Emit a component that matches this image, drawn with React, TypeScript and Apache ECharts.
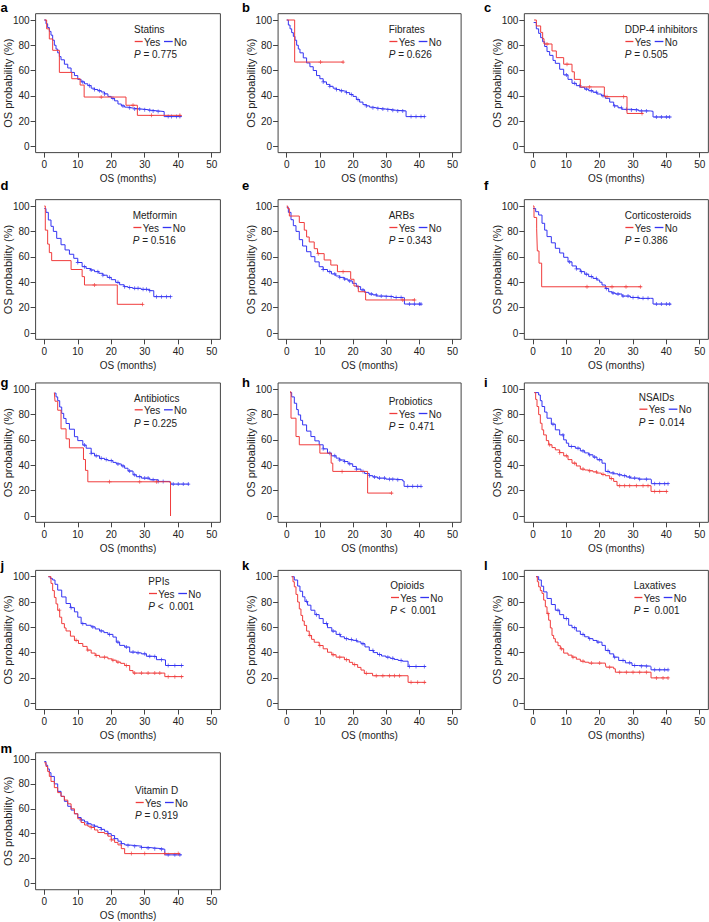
import React, { useEffect, useRef } from "react";
import * as echarts from "echarts";

const FONT = '"Liberation Sans", Arial, Helvetica, sans-serif';
const RED = "#f03c3c";
const BLUE = "#3434f2";
const INK = "#222";

const panelLetters = ["a", "b", "c", "d", "e", "f", "g", "h", "i", "j", "k", "l", "m"];
const drugNames = ["Statins", "Fibrates", "DDP-4 inhibitors", "Metformin", "ARBs", "Corticosteroids", "Antibiotics", "Probiotics", "NSAIDs", "PPIs", "Opioids", "Laxatives", "Vitamin D"];
const pValues = ["= 0.775", "= 0.626", "= 0.505", "= 0.516", "= 0.343", "= 0.386", "= 0.225", "=  0.471", "=  0.014", "<  0.001", "<  0.001", "=  0.001", "= 0.919"];
const xTicks = [0, 10, 20, 30, 40, 50];
const yTicks = [0, 20, 40, 60, 80, 100];

// Kaplan-Meier curves: [months, survival %]
const statinsYes = [[0,100],[0.7,93],[1.5,85],[2.5,76],[4.5,58.5],[8.2,53.5],[10.7,48.5],[11.9,39],[24.4,32.5],[27.8,24.5],[41,24.5]];
const statinsNo = [[0,100],[0.5,97],[1,94],[1.5,91],[2,88],[2.5,84],[3,80],[3.5,77],[4,74],[4.5,71],[5,68.5],[6,65],[7,62],[8,58.5],[9,56],[10,53],[11,51],[12,49.5],[13,48],[14,46],[15,45],[16,44],[17,43],[18,41.5],[19,39.5],[20,38],[21,36],[22,33.5],[23,32],[24,31],[25,30.5],[26,30],[27,29.5],[29,29],[31,28.5],[32,28],[34,27.5],[35.8,23.5],[41,23.5]];
const fibratesYes = [[0,100],[2.4,66.7],[17.2,66.7]];
const fibratesNo = [[0,100],[0.5,96],[1,93],[1.5,90],[2,87],[2.5,84],[3,80],[3.5,77],[4,74],[5,70],[6,66],[7,63],[8,60],[9,56],[10,53.5],[11,51],[12,49],[13,47.5],[14,46],[15,45],[16,44],[17,43.5],[18,42.5],[19,41],[20,39.5],[21,37],[22,35],[23,33],[24,32],[25,31],[26,30.5],[27,30],[28,29.5],[30,29],[32,28.5],[33,28],[36,23.5],[41.8,23.5]];
const dpp4Yes = [[0.3,100],[1,95.3],[2.3,90.2],[2.9,85.2],[3.3,81],[5.7,75.5],[7,70.2],[9.2,65],[11.7,59],[12.4,53],[14.2,47],[21.4,39.3],[28.2,26],[33,26]];
const dpp4No = [[0.2,98],[1,93],[1.7,89.4],[2.3,86],[2.9,82.8],[3.5,79],[4.2,75],[5,72],[6,68],[6.7,65.7],[8,61],[9.2,56.5],[10.5,53],[11.7,49.9],[13,48],[14.2,46.7],[15.5,45.3],[16.7,44],[18,42.8],[19.2,41.4],[20.5,40],[21.7,38],[23,35],[24.2,32],[25.5,30.5],[26.7,29.3],[29.2,28.8],[31.7,28],[35.2,27.7],[36,23.2],[41.2,23.2]];
const metforminYes = [[0,100],[0.3,81],[1,70],[1.5,63.3],[2.2,57],[8,50],[11.3,44.4],[12,37.8],[21.8,22.6],[29.6,22.6]];
const metforminNo = [[0,98],[0.5,95],[1.2,89],[2,84],[2.7,80],[3.7,74.5],[5,69.5],[6.2,65.4],[7.5,62],[8.8,58.8],[10,55.5],[11.3,52.2],[12.5,50.8],[13.8,49.6],[15,48.3],[16.3,47],[17.5,45.5],[18.8,43.8],[20,42],[21.3,39.9],[22.5,38],[23.8,36.5],[25,35.8],[26.4,35.2],[28.9,34.4],[31.4,33.3],[32.7,28.6],[37.9,28.6]];
const arbsYes = [[0,100],[0.3,98],[0.8,92.1],[3.8,87],[5.3,81],[6,75.6],[6.8,71.7],[8.3,66.4],[9.3,62.5],[11.3,57.5],[13.3,53.5],[15.3,48.3],[19.3,42.3],[20.3,37],[21.6,32.5],[23.8,26],[38.7,26]];
const arbsNo = [[0,99],[0.5,95],[1.3,89.2],[2,84.5],[2.8,80],[3.8,73.5],[4.8,68.5],[6,64],[7.3,60.1],[8.5,56],[9.8,52.2],[11,50],[12.3,48.3],[13.5,46.5],[14.8,44.9],[16,43.8],[17.3,42.5],[18.5,41],[19.8,39.1],[21,36.5],[22.3,33.9],[23.5,32],[24.8,30.7],[26,30],[27.2,29.1],[29.7,28.6],[32.2,28],[35.2,27.8],[35.5,22.8],[40.7,22.8]];
const corticoYes = [[0,100],[0.3,91],[1.1,82],[1.3,64.6],[1.8,55],[2.6,36.4],[32.5,36.4]];
const corticoNo = [[0,98],[0.8,95.5],[1.7,92.9],[2.7,86.4],[3.5,81],[4.2,75.9],[5.5,71],[6.7,66.7],[8,63],[9.2,59.6],[10.5,56],[11.7,52.8],[13,50.5],[14.2,48.3],[15.5,46.3],[16.7,44.4],[18,43],[19.2,41.7],[20,40],[20.7,37.8],[21.7,35],[22.7,32.5],[23.7,31.5],[24.7,30.7],[26.7,29.1],[29.2,28],[31.7,27.3],[35.2,27.3],[36,22.8],[41.4,22.8]];
const antibioticsYes = [[3,97.4],[3.2,90.6],[4,83.5],[5,68.8],[6.5,60.9],[7.5,53.8],[11.7,44.6],[12.3,36],[13,27],[37.7,0]];
const antibioticsNo = [[3,97],[3.5,94],[4,91],[4.6,86],[5.2,81],[5.8,77],[6.5,73],[7.5,68.5],[9,62.6],[10,59.5],[11.5,56],[12.5,53.5],[14,49.5],[15,47.5],[16.5,45.5],[18,44.5],[19,43.7],[20.5,42.3],[21.5,41.1],[23,39.5],[24,37.7],[25,35.5],[26.5,32.5],[27.5,31],[29,29.9],[31.5,28.6],[34,27.3],[37.5,26.5],[37.8,25.2],[43.3,25.2]];
const probioticsYes = [[1,98],[1.3,77.2],[2.8,62.7],[3.8,56.2],[10,49.6],[13.4,41.7],[13.9,35.2],[24.4,18.1],[31.9,18.1]];
const probioticsNo = [[1,97.4],[1.5,94],[2.3,89],[3,84],[3.5,79.8],[4.2,75.5],[4.8,71.9],[6,67],[7.3,62.7],[8.5,59.3],[9.8,56.2],[11,53],[12.3,49.6],[13.5,47.5],[14.9,45.7],[16,44.2],[17.4,43],[18.5,41.2],[19.9,39.1],[21,37],[22.4,35.2],[23.5,33.5],[24.9,31.8],[26,30.8],[27.4,29.9],[29.9,29.1],[32.4,28.6],[35,27.6],[35.4,23.4],[40.7,23.4]];
const nsaidsYes = [[0.4,97.4],[0.8,92],[1.2,86.4],[1.7,80],[2.2,73.2],[2.7,68],[3.2,64],[4,59.5],[4.7,56.2],[5.7,54],[6.7,52.2],[8,50],[9.2,47.5],[10.5,44.5],[11.7,41.7],[13,39.5],[14.2,37],[15.5,36.3],[16.7,35.7],[18,34.8],[19.2,33.9],[20.5,32.9],[21.7,31.8],[23,29.5],[24.2,27.3],[25.2,23.9],[35.4,19.4],[40.4,19.4]];
const nsaidsNo = [[0.4,97.4],[1.7,95.5],[2.2,91],[2.7,86.4],[3.5,82],[4.2,77.2],[5.5,72.5],[6.7,68],[8,64],[9.2,60.1],[10,57.5],[10.7,54.9],[12.7,53.5],[14.2,51.4],[15.5,49.8],[16.7,48.3],[18,46.5],[19.2,44.4],[20.7,41.7],[21.7,35.2],[23,34],[24.2,33.3],[25.5,32.5],[26.7,31.8],[28,30.8],[29.2,29.9],[31.7,29.1],[35.4,28.6],[35.5,25.5],[40.7,25.5]];
const ppisYes = [[1.2,100],[2,94.7],[2.5,89],[3,83.6],[3.5,78.5],[4,73.5],[4.6,68],[5.2,62.9],[6,59.5],[6.5,57.1],[7.8,53],[9,49.7],[10.2,47.2],[11.5,44.9],[12.8,42],[14,39.6],[15.2,37.8],[16.5,36.4],[19,35.1],[20.2,34],[21.5,32.5],[22.8,31.5],[24,29.8],[25.5,25.8],[26.5,23.8],[36,21],[41.5,21]];
const ppisNo = [[1.2,100],[1.8,98.5],[2.5,97.4],[3.2,94],[4,89.4],[5.2,84],[6.5,78.8],[7.8,75.5],[9,72.2],[10,68],[11,62.9],[12.5,61.6],[14,60.3],[15.2,58.7],[16.5,57.1],[17.8,55.8],[19,54.4],[20.5,52.3],[21.5,48.3],[22.5,45.7],[24,44.4],[25.5,40.4],[27.5,39.8],[29,39],[30.5,37.1],[32.5,36.9],[33.5,34.4],[35.5,34.2],[36.2,29.8],[41.5,29.8]];
const opioidsYes = [[1.5,100],[1.9,96],[2.3,92],[2.8,86],[3.3,80],[3.8,74.5],[4.3,69.4],[4.8,65],[5.3,61.5],[6,57],[6.8,53.5],[7.5,50.5],[8.3,48.2],[9.8,45.6],[11,43],[12.3,40.3],[13.6,38.3],[14.9,36.4],[17.4,34.4],[18.9,32.3],[19.9,30.5],[21.4,28.3],[22.4,26.2],[23.4,23.6],[25.9,21.7],[36.6,16.5],[42,16.5]];
const opioidsNo = [[1.5,100],[2.3,97.4],[3.3,92.6],[4,88.5],[4.8,84.1],[5.5,80.5],[6.3,77.5],[7.3,73.5],[8.5,70],[9.8,66.9],[11,63],[12.3,59.7],[13.6,57],[14.9,54.4],[16.2,52.5],[17.4,51],[18.6,50.3],[19.9,49.7],[21.2,48.5],[22.4,47],[23.6,44.5],[24.9,41.7],[26.2,40],[27.4,38.5],[28.6,37.3],[29.9,36.4],[31.2,35.5],[32.4,34.6],[33.6,33.8],[34.9,33.2],[36.6,29],[42,29]];
const laxativesYes = [[0.9,100],[1.3,96],[1.7,92],[2.2,89],[2.7,86.8],[3.2,81.5],[3.7,76.2],[4.2,71],[4.7,65.6],[5.2,59.5],[5.7,53.6],[6.2,51],[6.7,48.3],[7.5,45.5],[8.2,43],[9.2,39.6],[10.5,38],[11.7,36.4],[13,34.8],[14.2,33.2],[15.5,32.4],[16.7,31.7],[21.7,31.1],[21.9,28.5],[24.2,27.2],[24.7,24.5],[35.4,20],[40.7,20]];
const laxativesNo = [[0.9,100],[1.7,97.4],[2.5,92.5],[3.2,88],[4.2,82.8],[5.5,78],[6.7,73.5],[8,70],[9.2,66.9],[10.7,61.6],[11.7,59.7],[13,57],[14.2,54.4],[15.5,52.5],[16.7,51],[18,49.6],[19.2,48.3],[20.7,45.7],[21.7,41.7],[23,39],[24.2,36.4],[25.7,33.8],[27.7,31.9],[29.7,29.8],[31.7,29.3],[35.2,29],[35.4,26.4],[40.7,26.4]];
const vitaminDYes = [[0,97],[0.5,94],[1,90],[1.5,86],[2,82],[3,77],[4,73],[5,70],[6,67],[7,64],[8,60],[9,56],[10,52],[11,49],[12,47],[13,46],[14,45],[15,43],[16,41],[18,40],[19,38],[20,35],[21,33],[22,31],[23,28],[24,24],[40.5,24]];
const vitaminDNo = [[0,98],[0.5,95],[1,92],[1.5,89],[2,86],[3,80],[4,74],[5,70],[6,66],[7,62],[8,59],[9,56],[10,53],[11,51],[12,49.5],[13,48],[14,47],[15,46],[16,45],[17,43.5],[18,42],[19,40],[20,38.5],[21,36],[22,34],[23,32],[24,31],[25,30.5],[27,30],[29,29],[31,28.5],[33,28],[35,27.5],[36,23],[41,23]];

// censoring times (months)
const statinsYesC = [17, 26.5, 32, 40.5];
const statinsNoC = [11.5, 13.5, 15, 16.5, 18, 20.5, 23.5, 25.5, 27, 28.5, 30, 31.5, 32.5, 34, 37, 38, 39.5, 40.5];
const fibratesYesC = [10.2, 17];
const fibratesNoC = [11, 13, 15, 16.5, 18, 19.5, 21.5, 24, 26, 27.5, 29, 30.5, 32, 33.5, 35, 37.5, 39, 40.5, 41.5];
const dpp4YesC = [4.2, 10.2, 17, 22.2, 27.2, 32.7];
const dpp4NoC = [10, 12.5, 14, 16, 17.5, 19, 21, 24.5, 26.5, 28, 29.5, 31, 32.5, 34, 37, 38.5, 40, 41];
const metforminYesC = [15, 29.3];
const metforminNoC = [10, 12, 14, 16, 17.5, 19.5, 22, 24, 25.5, 27, 28, 29.5, 30.5, 31.5, 33.5, 35, 36.5, 37.7];
const arbsYesC = [9.5, 17, 35, 38.5];
const arbsNoC = [11, 13, 14.5, 16, 17.5, 19, 21.5, 23, 25.5, 27, 28.5, 30, 31.5, 33, 34.5, 37, 38.5, 40, 40.5];
const corticoYesC = [16.2, 23.7, 27.9, 32.2];
const corticoNoC = [11, 13, 14.5, 16, 17.5, 19, 22, 24, 25.5, 27, 28.5, 30, 31.5, 33, 34.5, 37, 38.5, 40, 41];
const antibioticsYesC = [19.5, 28.5, 33.5];
const antibioticsNoC = [12, 14, 15.5, 17, 18.5, 20, 22, 23.5, 25.5, 27, 28.5, 30, 31, 32.5, 34, 35.5, 38.5, 40, 41.5, 43];
const probioticsYesC = [16.7, 31.6];
const probioticsNoC = [11, 13, 14.5, 16, 17.5, 19, 21, 23, 25, 26.5, 28, 29.5, 31, 32, 33.5, 36.5, 38, 39.5, 40.5];
const nsaidsYesC = [5, 8, 10, 12.5, 15, 17, 19, 21, 23.5, 26, 27.5, 29, 31, 33, 34.5, 36.5, 38, 40];
const nsaidsNoC = [6, 9, 11.5, 13.5, 15, 17, 18.5, 20, 22.5, 24, 26, 27.5, 29, 30.5, 32, 34, 36.5, 38, 39.5, 40.5];
const ppisYesC = [4.5, 9.5, 13, 15.5, 18, 20.5, 22, 24.5, 27, 29, 31, 33, 34.5, 37, 39, 41];
const ppisNoC = [8, 11.5, 14.5, 17, 19.5, 22, 24.5, 26.5, 28, 30, 31.5, 33, 35, 37, 39, 41];
const opioidsYesC = [7, 10, 14, 16, 18, 20.5, 24, 27, 29, 31, 32.5, 34, 37.5, 39.5, 41.5];
const opioidsNoC = [6, 9, 12, 14, 16, 18, 19.5, 21, 23, 26, 28, 30.5, 32, 34.5, 37, 39, 41.5];
const laxativesYesC = [4.5, 8.5, 12, 15, 17.5, 20, 23, 26, 28, 30, 32, 34, 37, 39, 40.5];
const laxativesNoC = [7.5, 10, 12.5, 15, 17, 19.5, 22.5, 24.5, 27, 29, 30.5, 32.5, 34, 36.5, 38, 39.5, 40.5];
const vitaminDYesC = [14, 20, 26, 30, 36, 40];
const vitaminDNoC = [11, 13, 15, 17, 19, 21, 23, 25, 27, 29, 31, 33, 35, 37, 39, 40.5];

const yesCurves = [statinsYes, fibratesYes, dpp4Yes, metforminYes, arbsYes, corticoYes, antibioticsYes, probioticsYes, nsaidsYes, ppisYes, opioidsYes, laxativesYes, vitaminDYes];
const noCurves = [statinsNo, fibratesNo, dpp4No, metforminNo, arbsNo, corticoNo, antibioticsNo, probioticsNo, nsaidsNo, ppisNo, opioidsNo, laxativesNo, vitaminDNo];
const yesCensors = [statinsYesC, fibratesYesC, dpp4YesC, metforminYesC, arbsYesC, corticoYesC, antibioticsYesC, probioticsYesC, nsaidsYesC, ppisYesC, opioidsYesC, laxativesYesC, vitaminDYesC];
const noCensors = [statinsNoC, fibratesNoC, dpp4NoC, metforminNoC, arbsNoC, corticoNoC, antibioticsNoC, probioticsNoC, nsaidsNoC, ppisNoC, opioidsNoC, laxativesNoC, vitaminDNoC];

// layout: pixel positions of x=0, x=50, y=100, y=0 for each panel
const COLS = [
  { x0: 44.3, x50: 211.7, lx: 0.5 },
  { x0: 286.7, x50: 452.5, lx: 242 },
  { x0: 533, x50: 699.7, lx: 484 },
];
const ROWS = [
  { y100: 20, y0: 146.3, ly: 7 },
  { y100: 206, y0: 333, ly: 185.5 },
  { y100: 389.3, y0: 516, ly: 382 },
  { y100: 576.7, y0: 703.2, ly: 565.5 },
  { y100: 759, y0: 883.5, ly: 748 },
];
const LEGEND_POS = [
  [134, 29], [388.7, 29], [624.7, 29],
  [132.7, 215], [388.7, 215], [624.7, 215],
  [134, 397.3], [388.7, 401], [638.7, 396.7],
  [148.3, 581], [390.3, 585], [633.7, 585],
  [135, 790],
];
const XMIN = -2.6, XMAX = 52.6, YMIN = -5, YMAX = 105;

function stepValue(curve: number[][], t: number) {
  let v = curve[0][1];
  for (const p of curve) {
    if (p[0] <= t) v = p[1];
    else break;
  }
  return v;
}

const PLUS = "path://M2,0H3V2H5V3H3V5H2V3H0V2H2Z";

function buildOption() {
  const grids: any[] = [];
  const xAxes: any[] = [];
  const yAxes: any[] = [];
  const series: any[] = [];
  const graphics: any[] = [];
  const txt = { fontFamily: FONT, fontSize: 10, color: INK };

  for (let i = 0; i < 13; i++) {
    const c = COLS[i % 3];
    const r = ROWS[Math.floor(i / 3)];
    const ppx = (c.x50 - c.x0) / 50;
    const ppy = (r.y0 - r.y100) / 100;
    grids.push({
      left: c.x0 + XMIN * ppx,
      top: r.y100 - (YMAX - 100) * ppy,
      width: (XMAX - XMIN) * ppx,
      height: (YMAX - YMIN) * ppy,
      show: true,
      borderColor: "#444",
      borderWidth: 1,
      backgroundColor: "transparent",
      containLabel: false,
      outerBoundsMode: "none",
    });
    xAxes.push({
      type: "value", gridIndex: i, min: XMIN, max: XMAX,
      axisLine: { show: false, onZero: false },
      splitLine: { show: false },
      axisTick: { show: true, length: 5, customValues: xTicks, lineStyle: { color: "#444" } },
      axisLabel: { customValues: xTicks, margin: 7, ...txt },
      name: "OS (months)", nameLocation: "middle", nameGap: 21, nameMoveOverlap: false,
      nameTextStyle: { ...txt },
    });
    yAxes.push({
      type: "value", gridIndex: i, min: YMIN, max: YMAX,
      axisLine: { show: false, onZero: false },
      splitLine: { show: false },
      axisTick: { show: true, length: 5, customValues: yTicks, lineStyle: { color: "#444" } },
      axisLabel: { customValues: yTicks, margin: 6, ...txt },
      name: "OS probability (%)", nameLocation: "middle", nameGap: 22, nameMoveOverlap: false,
      nameTextStyle: { ...txt, fontSize: 11 },
    });
    const no = noCurves[i], yes = yesCurves[i];
    series.push({
      type: "line", xAxisIndex: i, yAxisIndex: i, data: no, step: "end",
      showSymbol: false, silent: true, lineStyle: { color: BLUE, width: 1 }, z: 2,
    });
    series.push({
      type: "scatter", xAxisIndex: i, yAxisIndex: i, silent: true, z: 2,
      data: noCensors[i].map((t) => [t, stepValue(no, t)]),
      symbol: PLUS, symbolSize: 4, itemStyle: { color: BLUE },
    });
    series.push({
      type: "line", xAxisIndex: i, yAxisIndex: i, data: yes, step: "end",
      showSymbol: false, silent: true, lineStyle: { color: RED, width: 1 }, z: 3,
    });
    series.push({
      type: "scatter", xAxisIndex: i, yAxisIndex: i, silent: true, z: 3,
      data: yesCensors[i].map((t) => [t, stepValue(yes, t)]),
      symbol: PLUS, symbolSize: 4, itemStyle: { color: RED },
    });

    // panel letter
    graphics.push({
      type: "text", x: c.lx, y: r.ly,
      style: { text: panelLetters[i], fontFamily: FONT, fontSize: 13, fontWeight: "bold", fill: "#000", textAlign: "left", textVerticalAlign: "middle", align: "left", verticalAlign: "middle" },
    });
    // legend block
    const [lx, ly] = LEGEND_POS[i];
    const tstyle = { fontFamily: FONT, fontSize: 10, fill: INK, textAlign: "left", textVerticalAlign: "middle", align: "left", verticalAlign: "middle" };
    const SY = 1.15;
    graphics.push({ type: "text", x: lx, y: ly, scaleY: SY, style: { ...tstyle, text: drugNames[i] } });
    const ry = ly + 12.5;
    graphics.push({ type: "line", shape: { x1: lx + 0.7, y1: ry, x2: lx + 8.7, y2: ry }, style: { stroke: RED, lineWidth: 1.3 } });
    graphics.push({ type: "text", x: lx + 10, y: ry, scaleY: SY, style: { ...tstyle, text: "Yes" } });
    graphics.push({ type: "line", shape: { x1: lx + 30, y1: ry, x2: lx + 38.7, y2: ry }, style: { stroke: BLUE, lineWidth: 1.3 } });
    graphics.push({ type: "text", x: lx + 40, y: ry, scaleY: SY, style: { ...tstyle, text: "No" } });
    graphics.push({
      type: "text", x: lx, y: ly + 25, scaleY: SY,
      style: { ...tstyle, text: "{i|P} " + pValues[i], rich: { i: { fontStyle: "italic", fontFamily: FONT, fontSize: 10, fill: INK } } },
    });
  }

  return {
    animation: false,
    backgroundColor: "#fff",
    grid: grids,
    xAxis: xAxes,
    yAxis: yAxes,
    series,
    graphic: graphics,
  };
}

export default function App() {
  const ref = useRef<HTMLDivElement>(null);
  useEffect(() => {
    if (!ref.current) return;
    const chart = echarts.init(ref.current, null, { renderer: "svg", width: 709, height: 922 });
    chart.setOption(buildOption() as any);
    return () => chart.dispose();
  }, []);
  return (
    <div
      ref={ref}
      style={{ position: "absolute", left: 0, top: 0, width: 709, height: 922, background: "#fff" }}
    />
  );
}
